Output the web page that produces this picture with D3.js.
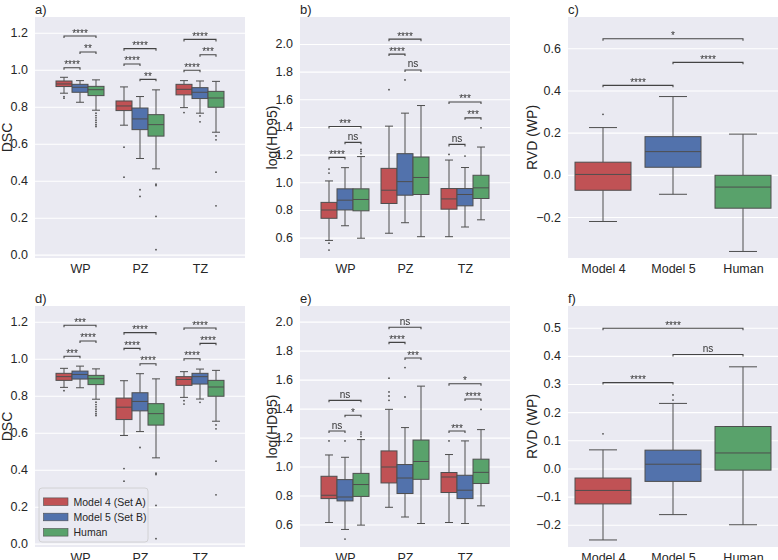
<!DOCTYPE html>
<html><head><meta charset="utf-8">
<script src="https://cdn.jsdelivr.net/npm/d3@7"></script>
<style>body{margin:0;background:#fff}svg{display:block}text{font-family:Arial,"Liberation Sans",sans-serif}</style>
</head><body><svg id="chart" width="778" height="560"></svg>
<script>
// ---------------- DATA ----------------
const regions = ["WP", "PZ", "TZ"];
const groups = ["Model 4", "Model 5", "Human"];
const legendLabels = ["Model 4 (Set A)", "Model 5 (Set B)", "Human"];
const panelLetters = ["a)", "b)", "c)", "d)", "e)", "f)"];
const yLabels = ["DSC", "log(HD95)", "RVD (WP)", "DSC", "log(HD95)", "RVD (WP)"];

// box stats per region: [lower whisker, Q1, median, Q3, upper whisker]
const dscModel4A = [[0.873,0.909,0.923,0.939,0.959],[0.700,0.779,0.804,0.831,0.907],[0.795,0.864,0.894,0.921,0.941]];
const dscModel5A = [[0.824,0.878,0.905,0.921,0.941],[0.520,0.676,0.734,0.793,0.855],[0.765,0.844,0.878,0.903,0.939]];
const dscHuman   = [[0.781,0.860,0.892,0.910,0.945],[0.464,0.641,0.703,0.757,0.891],[0.662,0.797,0.847,0.883,0.937]];
const dscModel4AOut = [[0.855,0.846],[0.581,0.419],[0.768]];
const dscModel5AOut = [[],[0.351,0.315],[0.750,0.718]];
const dscHumanOut   = [[0.765,0.752,0.740,0.727,0.715,0.703,0.693],[0.381,0.374,0.207,0.027],[0.642,0.621,0.446,0.264]];

const dscModel4B = [[0.845,0.883,0.903,0.921,0.948],[0.585,0.671,0.738,0.787,0.881],[0.791,0.856,0.888,0.903,0.930]];
const dscModel5B = [[0.843,0.890,0.915,0.933,0.960],[0.606,0.718,0.769,0.816,0.919],[0.782,0.863,0.903,0.921,0.944]];
const dscModel4BOut = [[0.827],[0.406,0.338],[0.773,0.755]];
const dscModel5BOut = [[],[0.52],[0.764]];

const hdModel4A = [[0.580,0.740,0.800,0.855,1.010],[0.632,0.847,0.943,1.101,1.406],[0.607,0.806,0.880,0.955,1.161]];
const hdModel5A = [[0.686,0.800,0.871,0.953,1.106],[0.708,0.907,1.005,1.207,1.500],[0.677,0.830,0.912,0.955,1.107]];
const hdHuman   = [[0.596,0.794,0.876,0.953,1.186],[0.607,0.912,1.035,1.183,1.555],[0.729,0.883,0.960,1.051,1.255]];
const hdModel4AOut = [[1.096,1.067,0.560,0.510],[1.670],[1.202]];
const hdModel5AOut = [[],[1.740],[1.190]];
const hdHumanOut   = [[1.238,1.224,1.207],[],[1.394]];

const hdModel4B = [[0.614,0.779,0.802,0.933,1.080],[0.719,0.887,0.997,1.108,1.395],[0.614,0.821,0.928,0.959,1.083]];
const hdModel5B = [[0.566,0.763,0.790,0.910,1.064],[0.652,0.814,0.921,1.014,1.269],[0.607,0.779,0.837,0.940,1.177]];
const hdModel4BOut = [[1.177],[1.610,1.515,1.487,1.457],[1.177]];
const hdModel5BOut = [[1.177,0.500],[1.683,1.480],[]];

// RVD per group: [lower whisker, Q1, median, Q3, upper whisker]
const rvdTop    = [[-0.221,-0.073,0.002,0.060,0.224],[-0.092,0.036,0.110,0.181,0.371],[-0.363,-0.158,-0.058,-0.002,0.193]];
const rvdTopOut = [[0.287],[],[]];
const rvdBottom    = [[-0.254,-0.126,-0.078,-0.034,0.066],[-0.164,-0.046,0.015,0.065,0.231],[-0.200,-0.006,0.055,0.149,0.361]];
const rvdBottomOut = [[0.123],[0.261,0.243],[]];

// significance annotations: [region, box i, box j, y, label]
const sigDscA = [[0,0,1,1.011,"****"],[0,1,2,1.096,"**"],[0,0,2,1.182,"****"],[1,0,1,1.031,"****"],[1,1,2,0.948,"**"],[1,0,2,1.114,"****"],[2,0,1,0.997,"****"],[2,1,2,1.081,"***"],[2,0,2,1.164,"****"]];
const sigHdA  = [[0,0,1,1.180,"****"],[0,1,2,1.289,"ns"],[0,0,2,1.404,"***"],[1,0,1,1.927,"****"],[1,1,2,1.812,"ns"],[1,0,2,2.035,"****"],[2,0,1,1.274,"ns"],[2,1,2,1.466,"***"],[2,0,2,1.581,"***"]];
const sigRvdA = [[0,1,0.424,"****"],[1,2,0.533,"****"],[0,2,0.645,"*"]];
const sigDscB = [[0,0,1,1.013,"***"],[0,1,2,1.096,"****"],[0,0,2,1.181,"***"],[1,0,1,1.056,"****"],[1,1,2,0.973,"****"],[1,0,2,1.141,"****"],[2,0,1,1.000,"****"],[2,1,2,1.083,"****"],[2,0,2,1.166,"****"]];
const sigHdB  = [[0,0,1,1.245,"ns"],[0,1,2,1.354,"*"],[0,0,2,1.457,"ns"],[1,0,1,1.857,"****"],[1,1,2,1.749,"***"],[1,0,2,1.961,"ns"],[2,0,1,1.245,"***"],[2,1,2,1.466,"****"],[2,0,2,1.572,"*"]];
const sigRvdB = [[0,1,0.305,"****"],[1,2,0.405,"ns"],[0,2,0.498,"****"]];

const ticksDSC = [0.0,0.2,0.4,0.6,0.8,1.0,1.2];
const ticksHD = [0.6,0.8,1.0,1.2,1.4,1.6,1.8,2.0];
const ticksRvdTop = [-0.2,0.0,0.2,0.4,0.6];
const ticksRvdBottom = [-0.2,-0.1,0.0,0.1,0.2,0.3,0.4,0.5];

// ---------------- STYLE / LAYOUT ----------------
const colors = ["#c05255", "#5272ac", "#59a26b"];
const edge = "#4e4e4e";
const bgCol = "#eaeaf2";
const svg = d3.select("#chart");

const defs = svg.append("defs");
defs.append("filter").attr("id", "gray").attr("x", "-20%").attr("y", "-50%").attr("width", "140%").attr("height", "200%")
  .append("feColorMatrix").attr("type", "saturate").attr("values", 0);

const panels = [
  {x0:35,x1:245,y0:17,y1:258,dom:[-0.018,1.285],ticks:ticksDSC,pad:0.75,hue:true,
   stats:[dscModel4A,dscModel5A,dscHuman],outs:[dscModel4AOut,dscModel5AOut,dscHumanOut],sig:sigDscA,ylx:12},
  {x0:300,x1:510,y0:17,y1:258,dom:[0.453,2.195],ticks:ticksHD,pad:0.75,hue:true,
   stats:[hdModel4A,hdModel5A,hdHuman],outs:[hdModel4AOut,hdModel5AOut,hdHumanOut],sig:sigHdA,ylx:277},
  {x0:568,x1:778,y0:17,y1:258,dom:[-0.394,0.748],ticks:ticksRvdTop,pad:0.5,hue:false,
   stats:rvdTop,outs:rvdTopOut,sig:sigRvdA,ylx:537},
  {x0:35,x1:245,y0:306,y1:547,dom:[-0.018,1.285],ticks:ticksDSC,pad:0.75,hue:true,
   stats:[dscModel4B,dscModel5B,dscHuman],outs:[dscModel4BOut,dscModel5BOut,dscHumanOut],sig:sigDscB,ylx:12,legend:true},
  {x0:300,x1:510,y0:306,y1:547,dom:[0.445,2.108],ticks:ticksHD,pad:0.75,hue:true,
   stats:[hdModel4B,hdModel5B,hdHuman],outs:[hdModel4BOut,hdModel5BOut,hdHumanOut],sig:sigHdB,ylx:277},
  {x0:568,x1:778,y0:306,y1:547,dom:[-0.279,0.577],ticks:ticksRvdBottom,pad:0.5,hue:false,
   stats:rvdBottom,outs:rvdBottomOut,sig:sigRvdB,ylx:537}
];

const fmt = d3.format(".1f");

panels.forEach((p, pi) => {
  const g = svg.append("g");
  const cats = p.hue ? regions : groups;
  const x = d3.scalePoint().domain(cats).range([p.x0, p.x1]).padding(p.pad);
  const y = d3.scaleLinear().domain(p.dom).range([p.y1, p.y0]);
  const step = x.step();

  g.append("rect").attr("x", p.x0).attr("y", p.y0).attr("width", p.x1 - p.x0).attr("height", p.y1 - p.y0).attr("fill", bgCol);

  const ya = g.append("g").attr("transform", `translate(${p.x0},0)`)
    .call(d3.axisLeft(y).tickValues(p.ticks).tickFormat(fmt).tickSize(-(p.x1 - p.x0)).tickPadding(7));
  ya.select(".domain").remove();
  ya.selectAll(".tick line").attr("stroke", "#fff").attr("stroke-width", 1.1);
  ya.selectAll(".tick text").attr("fill", "#262626").style("font-size", "12.5px").style("font-family", 'Arial,"Liberation Sans",sans-serif');

  const xa = g.append("g").attr("transform", `translate(0,${p.y1})`)
    .call(d3.axisBottom(x).tickSize(0).tickPadding(6));
  xa.select(".domain").remove();
  xa.selectAll(".tick text").attr("fill", "#262626").style("font-size", "12.5px").style("font-family", 'Arial,"Liberation Sans",sans-serif');

  // panel letter
  g.append("text").attr("x", p.x0).attr("y", p.y0 - 3).text(panelLetters[pi])
    .attr("fill", "#262626").style("font-size", "13px");
  // y label
  const yc = (p.y0 + p.y1) / 2;
  g.append("text").attr("transform", `translate(${p.ylx},${yc}) rotate(-90)`).attr("text-anchor", "middle")
    .text(yLabels[pi]).attr("fill", "#262626").style("font-size", "14px");

  // boxes
  const boxes = [];
  if (p.hue) {
    const bw = step * 0.8 / 3;
    p.stats.forEach((ser, s) => ser.forEach((st, c) => {
      boxes.push({cx: x(regions[c]) + (s - 1) * bw, w: bw, st, out: p.outs[s][c], col: colors[s]});
    }));
  } else {
    const bw = step * 0.8;
    p.stats.forEach((st, c) => boxes.push({cx: x(groups[c]), w: bw, st, out: p.outs[c], col: colors[c]}));
  }
  boxes.forEach(b => {
    const [lo, q1, md, q3, hi] = b.st;
    const bg = g.append("g");
    bg.append("line").attr("x1", b.cx).attr("x2", b.cx).attr("y1", y(q3)).attr("y2", y(hi)).attr("stroke", edge).attr("stroke-width", 1);
    bg.append("line").attr("x1", b.cx).attr("x2", b.cx).attr("y1", y(q1)).attr("y2", y(lo)).attr("stroke", edge).attr("stroke-width", 1);
    [lo, hi].forEach(v => bg.append("line").attr("x1", b.cx - b.w / 4).attr("x2", b.cx + b.w / 4)
      .attr("y1", y(v)).attr("y2", y(v)).attr("stroke", edge).attr("stroke-width", 1));
    bg.append("rect").attr("x", b.cx - b.w / 2).attr("y", y(q3)).attr("width", b.w).attr("height", y(q1) - y(q3))
      .attr("fill", b.col).attr("stroke", edge).attr("stroke-width", 1);
    bg.append("line").attr("x1", b.cx - b.w / 2).attr("x2", b.cx + b.w / 2).attr("y1", y(md)).attr("y2", y(md))
      .attr("stroke", edge).attr("stroke-width", 1);
    bg.selectAll("circle.out").data(b.out).enter().append("circle")
      .attr("cx", b.cx).attr("cy", v => y(v)).attr("r", 0.9).attr("fill", edge);
  });

  // significance brackets
  const bx = (c, s) => p.hue ? x(regions[c]) + (s - 1) * (step * 0.8 / 3) : x(groups[s]);
  const sg = g.append("g").attr("filter", "url(#gray)");
  p.sig.forEach(a => {
    let xa1, xa2, yv, lab;
    if (p.hue) { xa1 = bx(a[0], a[1]); xa2 = bx(a[0], a[2]); yv = a[3]; lab = a[4]; }
    else { xa1 = bx(0, a[0]); xa2 = bx(0, a[1]); yv = a[2]; lab = a[3]; }
    const yy = y(yv);
    sg.append("path").attr("d", `M${xa1},${yy + 2}L${xa1},${yy}L${xa2},${yy}L${xa2},${yy + 2}`)
      .attr("fill", "none").attr("stroke", "#444").attr("stroke-width", 1.1);
    const isNs = lab === "ns";
    sg.append("text").attr("x", (xa1 + xa2) / 2).attr("y", isNs ? yy - 2.5 : yy + 0.5)
      .attr("text-anchor", "middle").text(lab).attr("fill", "#333").style("font-size", "10px");
  });

  if (p.legend) {
    const lg = g.append("g");
    lg.append("rect").attr("x", 39).attr("y", 488).attr("width", 109).attr("height", 54).attr("rx", 3)
      .attr("fill", bgCol).attr("fill-opacity", 0.85).attr("stroke", "#cccccc").attr("stroke-width", 0.8);
    legendLabels.forEach((l, i) => {
      const cy = 501.7 + i * 15.3;
      lg.append("rect").attr("x", 43.5).attr("y", cy - 3.8).attr("width", 24.5).attr("height", 7.6)
        .attr("fill", colors[i]).attr("stroke", edge).attr("stroke-width", 0.6);
      lg.append("text").attr("x", 73.5).attr("y", cy + 3.8).text(l).attr("fill", "#262626").style("font-size", "10.5px");
    });
  }
});
</script></body></html>
